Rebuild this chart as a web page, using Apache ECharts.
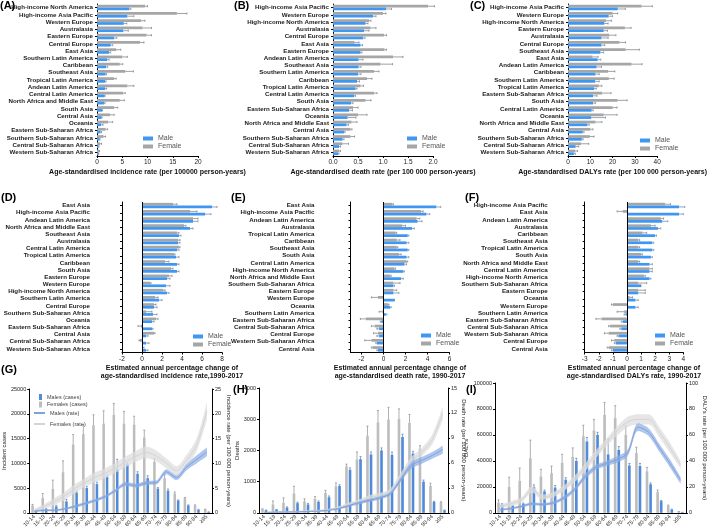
<!DOCTYPE html>
<html>
<head>
<meta charset="utf-8">
<style>
  html, body { margin: 0; padding: 0; background: #fff; }
  #chart { width: 709px; height: 530px; }
</style>
</head>
<body>
<div id="chart"></div>
<script src="https://cdn.jsdelivr.net/npm/echarts@6/dist/echarts.min.js"></script>
<script>
var FONT = '"Liberation Sans", Arial, sans-serif';
var BLUE = '#3f97f2', GREY = '#a6a6a6';
var BLUE2 = '#4f8bd9', GREY2 = '#bdbdbd';

// ---- (A) incidence rate by region ----
var regionsA = ['High-income North America','High-income Asia Pacific','Western Europe','Australasia','Eastern Europe','Central Europe','East Asia','Southern Latin America','Caribbean','Southeast Asia','Tropical Latin America','Andean Latin America','Central Latin America','North Africa and Middle East','South Asia','Central Asia','Oceania','Eastern Sub-Saharan Africa','Southern Sub-Saharan Africa','Central Sub-Saharan Africa','Western Sub-Saharan Africa'];
var maleA      = [6.4, 6.0, 5.3, 5.2, 3.4, 2.7, 2.4, 2.0, 1.8, 1.7, 1.6, 1.6, 1.5, 1.4, 1.0, 0.9, 0.8, 0.7, 0.5, 0.3, 0.3];
var maleErrA   = [6.7, 7.3, 5.9, 6.2, 3.9, 3.1, 2.7, 2.4, 2.1, 1.9, 1.8, 1.9, 1.6, 1.6, 1.1, 1.0, 1.2, 0.9, 0.6, 0.4, 0.35];
var femaleA    = [9.5, 15.8, 8.7, 9.0, 9.8, 8.5, 3.8, 5.0, 4.5, 5.6, 3.4, 6.0, 5.2, 4.5, 3.4, 2.6, 2.2, 1.7, 1.3, 0.6, 0.4];
var femaleErrA = [10.0, 17.8, 9.5, 10.8, 10.8, 9.3, 4.7, 6.0, 5.1, 7.2, 3.8, 7.3, 5.6, 5.4, 4.1, 3.4, 3.1, 2.1, 1.7, 0.9, 0.5];

// ---- (B) death rate by region ----
var regionsB = ['High-income Asia Pacific','Western Europe','High-income North America','Australasia','Central Europe','East Asia','Eastern Europe','Andean Latin America','Southeast Asia','Southern Latin America','Caribbean','Tropical Latin America','Central Latin America','South Asia','Eastern Sub-Saharan Africa','Oceania','North Africa and Middle East','Central Asia','Southern Sub-Saharan Africa','Central Sub-Saharan Africa','Western Sub-Saharan Africa'];
var maleB      = [1.06, 0.80, 0.65, 0.62, 0.60, 0.55, 0.55, 0.51, 0.51, 0.50, 0.48, 0.45, 0.42, 0.36, 0.32, 0.29, 0.27, 0.22, 0.19, 0.12, 0.10];
var maleErrB   = [1.17, 0.86, 0.70, 0.72, 0.64, 0.59, 0.58, 0.60, 0.56, 0.56, 0.53, 0.48, 0.45, 0.40, 0.39, 0.46, 0.31, 0.24, 0.22, 0.15, 0.12];
var femaleB    = [1.90, 1.00, 0.72, 0.75, 1.02, 0.43, 1.03, 1.20, 0.95, 0.82, 0.68, 0.55, 0.82, 0.65, 0.40, 0.50, 0.37, 0.35, 0.35, 0.19, 0.12];
var femaleErrB = [2.03, 1.06, 0.76, 0.86, 1.07, 0.52, 1.07, 1.40, 1.19, 0.92, 0.78, 0.61, 0.88, 0.76, 0.50, 0.68, 0.48, 0.38, 0.43, 0.31, 0.15];

// ---- (C) DALYs rate by region ----
var regionsC = ['High-income Asia Pacific','Western Europe','High-income North America','Eastern Europe','Australasia','Central Europe','Southeast Asia','East Asia','Andean Latin America','Caribbean','Southern Latin America','Tropical Latin America','Eastern Sub-Saharan Africa','South Asia','Central Latin America','Oceania','North Africa and Middle East','Central Asia','Southern Sub-Saharan Africa','Central Sub-Saharan Africa','Western Sub-Saharan Africa'];
var maleC      = [22.3, 18.2, 16.3, 16.0, 15.0, 15.0, 14.5, 13.3, 12.8, 12.3, 12.2, 11.7, 11.2, 11.2, 10.6, 10.4, 8.7, 6.6, 6.2, 3.4, 2.6];
var maleErrC   = [25.7, 20.0, 18.0, 17.7, 18.0, 16.5, 16.0, 14.7, 15.0, 14.0, 14.0, 12.7, 13.0, 12.3, 11.3, 16.8, 9.5, 7.2, 6.8, 4.8, 3.3];
var femaleC    = [33.0, 20.0, 17.0, 25.5, 18.5, 23.0, 25.8, 11.0, 28.5, 18.0, 18.3, 13.8, 15.3, 22.2, 20.0, 16.0, 12.3, 10.0, 9.8, 5.8, 3.2];
var femaleErrC = [37.8, 22.3, 19.5, 28.3, 21.5, 25.8, 32.0, 13.5, 33.2, 21.0, 20.7, 15.2, 19.3, 26.5, 22.0, 22.0, 15.2, 11.2, 11.7, 9.3, 4.3];

// ---- (D) EAPC incidence ----
var regionsD = ['East Asia','High-income Asia Pacific','Andean Latin America','North Africa and Middle East','Southeast Asia','Australasia','Central Latin America','Tropical Latin America','Caribbean','South Asia','Eastern Europe','Western Europe','High-income North America','Southern Latin America','Central Europe','Southern Sub-Saharan Africa','Oceania','Eastern Sub-Saharan Africa','Central Asia','Central Sub-Saharan Africa','Western Sub-Saharan Africa'];
var maleD      = [7.0, 6.3, 5.1, 4.8, 3.7, 3.6, 3.5, 3.4, 3.5, 3.5, 2.5, 2.4, 2.5, 1.7, 1.2, 1.1, 1.0, 1.0, 0.4, 0.4, 0.4];
var maleErrD   = [7.5, 6.9, 5.6, 5.1, 3.9, 3.8, 3.7, 3.7, 3.7, 3.7, 2.8, 2.8, 2.7, 2.0, 1.5, 1.5, 1.2, 1.1, 0.6, 0.7, 0.6];
var femaleD    = [3.1, 4.8, 5.1, 4.2, 3.5, 3.6, 3.7, 3.2, 2.3, 2.9, 2.7, 0.8, 2.1, 1.3, 1.2, 0.4, 1.4, -0.1, 1.2, -0.2, 0.1];
var femaleErrD = [3.5, 5.5, 5.6, 4.4, 3.7, 3.8, 3.8, 3.3, 2.7, 3.1, 3.0, 0.9, 2.3, 1.6, 1.4, 1.0, 1.6, -0.4, 1.3, -0.3, 0.2];

// ---- (E) EAPC death ----
var regionsE = ['East Asia','High-income Asia Pacific','Andean Latin America','Australasia','Tropical Latin America','Caribbean','Southeast Asia','South Asia','Central Latin America','High-income North America','North Africa and Middle East','Southern Sub-Saharan Africa','Eastern Europe','Western Europe','Oceania','Southern Latin America','Eastern Sub-Saharan Africa','Central Sub-Saharan Africa','Central Europe','Western Sub-Saharan Africa','Central Asia'];
var maleE      = [4.8, 3.9, 3.1, 2.6, 2.2, 2.1, 2.2, 2.1, 1.9, 1.8, 1.6, 0.9, 0.9, 1.0, 0.6, 0.2, -0.2, -0.4, -0.4, -0.6, -0.5];
var maleErrE   = [5.2, 4.2, 3.5, 2.8, 2.3, 2.3, 2.3, 2.3, 2.1, 1.9, 1.8, 1.0, 1.4, 1.0, 0.7, 0.3, -0.3, -0.6, -0.6, -0.7, -0.6];
var femaleE    = [0.8, 3.4, 3.0, 1.7, 1.1, 1.2, 1.2, 1.4, 2.1, 1.0, 0.6, 0.9, 0.9, -0.5, 0.4, -0.1, -1.6, -0.8, -0.5, -1.1, -1.0];
var femaleErrE = [0.9, 3.6, 3.3, 2.0, 1.2, 1.5, 1.3, 1.6, 2.2, 1.1, 0.7, 1.5, 1.2, -1.1, 0.5, -0.4, -2.1, -1.1, -0.9, -1.7, -1.1];

// ---- (F) EAPC DALYs ----
var regionsF = ['High-income Asia Pacific','East Asia','Andean Latin America','Australasia','Caribbean','Southeast Asia','Tropical Latin America','South Asia','North Africa and Middle East','Central Latin America','High-income North America','Southern Sub-Saharan Africa','Eastern Europe','Oceania','Western Europe','Southern Latin America','Eastern Sub-Saharan Africa','Central Sub-Saharan Africa','Western Sub-Saharan Africa','Central Europe','Central Asia'];
var maleF      = [3.7, 3.7, 2.5, 2.2, 2.0, 1.8, 1.8, 1.7, 1.6, 1.6, 1.6, 1.0, 0.8, 0.6, 0.6, -0.1, -0.3, -0.4, -0.6, -0.8, -1.0];
var maleErrF   = [4.1, 4.0, 2.9, 2.4, 2.1, 1.9, 1.9, 1.8, 1.8, 1.8, 1.7, 1.0, 1.3, 0.8, 0.8, -0.2, -0.4, -0.5, -0.7, -0.9, -1.1];
var femaleF    = [2.7, -0.3, 2.4, 1.7, 1.1, 0.8, 0.8, 1.0, 0.8, 1.6, 1.2, 0.8, 0.8, 0.2, -1.0, -0.2, -1.8, -1.2, -1.3, -0.9, -1.3];
var femaleErrF = [3.1, -0.7, 2.6, 2.0, 1.4, 0.9, 0.9, 1.1, 0.9, 1.8, 1.3, 1.4, 1.3, 0.4, -1.1, -0.7, -2.2, -1.3, -1.6, -1.1, -1.4];

// ---- (G)(H)(I) by age group ----
var ageGroups = ['10-14','15-19','20-24','25-29','30-34','35-39','40-44','45-49','50-54','55-59','60-64','65-69','70-74','75-79','80-84','85-89','90-94','≥95'];

var gFemaleCases   = [1500, 3000, 4800, 8200, 13800, 15900, 17700, 18000, 19800, 18000, 17800, 15200, 10300, 7000, 3900, 3000, 1500, 700];
var gFemaleCasesUp = [1700, 3900, 6600, 10500, 15800, 17800, 19800, 20600, 22100, 20500, 19500, 16700, 11000, 7700, 4200, 3100, 1600, 750];
var gMaleCases     = [300, 750, 1300, 2300, 4100, 5000, 5800, 7300, 8800, 9800, 7900, 7000, 4900, 4500, 2500, 1500, 600, 150];
var gMaleCasesUp   = [400, 900, 1500, 2700, 4400, 5300, 6200, 7600, 10800, 10000, 8300, 7500, 5100, 4800, 2600, 1600, 700, 200];
var gMaleRate      = [0.3, 0.5, 0.5, 0.8, 1.3, 1.9, 2.5, 3.3, 4.5, 5.8, 5.5, 6.0, 6.1, 8.3, 7.1, 9.2, 10.8, 12.3];
var gMaleRateLo    = [0.1, 0.3, 0.3, 0.6, 1.0, 1.6, 2.2, 3.0, 4.2, 5.4, 5.1, 5.6, 5.7, 7.8, 6.6, 8.6, 10.0, 11.4];
var gMaleRateHi    = [0.5, 0.7, 0.7, 1.0, 1.6, 2.2, 2.8, 3.6, 4.8, 6.2, 5.9, 6.4, 6.5, 8.8, 7.6, 9.8, 11.6, 13.2];
var gFemaleRate    = [0.5, 1.3, 2.3, 3.4, 4.9, 6.1, 7.2, 8.0, 9.1, 10.3, 11.4, 12.2, 11.5, 10.0, 8.5, 10.6, 13.8, 20.6];
var gFemaleRateLo  = [0.2, 0.8, 1.6, 2.6, 4.0, 5.2, 6.2, 7.0, 8.1, 9.2, 10.3, 11.0, 10.4, 9.0, 7.6, 9.5, 12.5, 18.8];
var gFemaleRateHi  = [0.8, 1.8, 3.0, 4.2, 5.8, 7.0, 8.2, 9.0, 10.1, 11.4, 12.5, 13.4, 12.6, 11.0, 9.4, 11.7, 15.1, 22.4];

var hFemaleDeaths   = [115, 270, 320, 620, 370, 450, 640, 850, 1490, 1710, 2470, 2900, 2990, 3010, 2880, 2050, 870, 340];
var hFemaleDeathsUp = [130, 380, 480, 850, 450, 520, 720, 960, 1560, 1950, 2780, 3280, 3380, 3330, 3150, 2150, 950, 355];
var hMaleDeaths     = [80, 100, 170, 310, 270, 350, 500, 860, 1380, 1720, 1870, 2000, 1860, 2430, 1900, 1000, 350, 80];
var hMaleDeathsUp   = [90, 110, 190, 340, 300, 380, 540, 900, 1440, 1800, 1950, 2080, 1950, 2520, 1970, 1050, 370, 90];
var hMaleRate       = [0.05, 0.08, 0.1, 0.12, 0.15, 0.2, 0.3, 0.5, 0.85, 1.2, 1.5, 1.8, 2.3, 4.0, 5.7, 6.3, 6.9, 7.6];
var hMaleRateLo     = [0, 0.02, 0.04, 0.05, 0.08, 0.12, 0.2, 0.38, 0.7, 1.0, 1.3, 1.6, 2.1, 3.7, 5.3, 5.9, 6.5, 7.1];
var hMaleRateHi     = [0.1, 0.14, 0.16, 0.19, 0.22, 0.28, 0.4, 0.62, 1.0, 1.4, 1.7, 2.0, 2.5, 4.3, 6.1, 6.7, 7.3, 8.1];
var hFemaleRate     = [0.05, 0.08, 0.1, 0.15, 0.2, 0.25, 0.35, 0.6, 1.0, 1.4, 1.8, 2.1, 2.6, 4.4, 6.2, 7.3, 8.8, 12.0];
var hFemaleRateLo   = [0, 0.02, 0.04, 0.08, 0.12, 0.16, 0.25, 0.45, 0.8, 1.2, 1.5, 1.8, 2.3, 4.0, 5.7, 6.8, 8.2, 11.2];
var hFemaleRateHi   = [0.1, 0.14, 0.16, 0.22, 0.28, 0.34, 0.45, 0.75, 1.2, 1.6, 2.1, 2.4, 2.9, 4.8, 6.7, 7.8, 9.4, 12.8];

var iFemaleDalys   = [8000, 20000, 24500, 42000, 28000, 30500, 38500, 43000, 59000, 63500, 75500, 73000, 60000, 46000, 32000, 16000, 5500, 800];
var iFemaleDalysUp = [10000, 27500, 34500, 56000, 33500, 36000, 45000, 50000, 67500, 72000, 85000, 82500, 67000, 50500, 35000, 17500, 6000, 1000];
var iMaleDalys     = [6500, 5500, 7000, 20000, 16500, 19500, 25500, 40000, 55000, 60000, 45000, 48500, 36500, 36000, 22000, 9000, 2500, 300];
var iMaleDalysUp   = [7000, 6000, 7500, 21500, 17500, 21000, 27000, 42000, 58000, 62000, 57000, 51000, 38000, 38000, 23000, 9500, 2800, 400];
var iMaleRate      = [2.3, 3.3, 5.0, 7.0, 6.4, 7.7, 11.5, 18, 28, 35, 38, 41, 46, 66, 62, 50, 38, 25];
var iMaleRateLo    = [1.5, 2.5, 4.0, 5.8, 5.3, 6.5, 10.0, 16.5, 26, 33, 36, 38.5, 43.5, 63, 59, 47, 35, 22.5];
var iMaleRateHi    = [3.1, 4.1, 6.0, 8.2, 7.5, 8.9, 13.0, 19.5, 30, 37, 40, 43.5, 48.5, 69, 65, 53, 41, 27.5];
var iFemaleRate    = [5, 7, 10, 18, 12, 14, 19, 26, 35, 45, 54, 63, 70, 72, 72, 62, 50, 37];
var iFemaleRateLo  = [3.5, 5, 8, 15.5, 10, 12, 17, 23.5, 32, 42, 51, 59.5, 66, 68, 68, 58, 46, 34];
var iFemaleRateHi  = [6.5, 9, 12, 20.5, 14, 16, 21, 28.5, 38, 48, 57, 66.5, 74, 76, 76, 66, 54, 40];

var chart = echarts.init(document.getElementById('chart'));

// error bar drawn from bar end to the upper value, with a cap
function errorBar(horizontal, shift, color) {
  return function (params, api) {
    var a = api.value(0), b = api.value(1), e = api.value(2);
    var p0, p1, band, off, cap, st = { stroke: color, lineWidth: 0.7 };
    if (horizontal) {
      p0 = api.coord([a, b]); p1 = api.coord([e, b]);
      band = api.size([0, 1])[1];
      off = p0[1] + shift * band; cap = band * 0.15;
      return { type: 'group', children: [
        { type: 'line', shape: { x1: p0[0], y1: off, x2: p1[0], y2: off }, style: st },
        { type: 'line', shape: { x1: p1[0], y1: off - cap, x2: p1[0], y2: off + cap }, style: st }
      ] };
    }
    p0 = api.coord([a, b]); p1 = api.coord([a, e]);
    band = api.size([1, 0])[0];
    off = p0[0] + shift * band; cap = band * 0.1;
    return { type: 'group', children: [
      { type: 'line', shape: { x1: off, y1: p0[1], x2: off, y2: p1[1] }, style: st },
      { type: 'line', shape: { x1: off - cap, y1: p1[1], x2: off + cap, y2: p1[1] }, style: st }
    ] };
  };
}

var hPanels = [
  { cats: regionsA, male: maleA, maleErr: maleErrA, female: femaleA, femaleErr: femaleErrA,
    grid: { left: 97, top: 4, width: 101, height: 152 }, min: 0, max: 20, interval: 5, fmt: null,
    name: 'Age-standardised incidence rate (per 100000 person-years)', nameGap: 12, labelMargin: 4, legend: [138, 130] },
  { cats: regionsB, male: maleB, maleErr: maleErrB, female: femaleB, femaleErr: femaleErrB,
    grid: { left: 333, top: 4, width: 100, height: 152 }, min: 0, max: 2, interval: 0.5, fmt: function (v) { return v.toFixed(1); },
    name: 'Age-standardised death rate (per 100 000 person-years)', nameGap: 12, labelMargin: 4, legend: [402, 130] },
  { cats: regionsC, male: maleC, maleErr: maleErrC, female: femaleC, femaleErr: femaleErrC,
    grid: { left: 568, top: 4, width: 102, height: 152 }, min: 0, max: 40, interval: 10, fmt: null,
    name: 'Age-standardised DALYs rate (per 100 000 person-years)', nameGap: 12, labelMargin: 4, legend: [635, 132] },
  { cats: regionsD, male: maleD, maleErr: maleErrD, female: femaleD, femaleErr: femaleErrD,
    grid: { left: 122, top: 202, width: 100, height: 150.5 }, min: -2, max: 8, interval: 2, fmt: null, zero: true,
    name: 'Estimated annual percentage change of\nage-standardised incidence rate,1990-2017', nameGap: 10, labelMargin: 32, legend: [188, 328] },
  { cats: regionsE, male: maleE, maleErr: maleErrE, female: femaleE, femaleErr: femaleErrE,
    grid: { left: 350.5, top: 202, width: 99, height: 150.5 }, min: -3, max: 6, ticks: [-2, 0, 2, 4, 6], fmt: null, zero: true,
    name: 'Estimated annual percentage change of\nage-standardised death rate, 1990-2017', nameGap: 10, labelMargin: 36, legend: [416, 327] },
  { cats: regionsF, male: maleF, maleErr: maleErrF, female: femaleF, femaleErr: femaleErrF,
    grid: { left: 584.7, top: 202, width: 98.6, height: 150.5 }, min: -3, max: 4, interval: 1, fmt: null, zero: true,
    name: 'Estimated annual percentage change of\nage-standardised DALYs rate, 1990-2017', nameGap: 10, labelMargin: 37, legend: [650, 327] }
];

var grids = [], xAxes = [], yAxes = [], series = [], legends = [];

hPanels.forEach(function (p, k) {
  grids.push(p.grid);
  var xa = {
    gridIndex: k, type: 'value', min: p.min, max: p.max,
    axisLine: { show: true, onZero: false, lineStyle: { color: '#000', width: 1 } },
    axisTick: { show: true, length: 2, lineStyle: { color: '#000' } },
    splitLine: { show: false },
    axisLabel: { fontSize: 6.5, color: '#222', margin: 3, fontFamily: FONT },
    name: p.name, nameLocation: 'middle', nameGap: p.nameGap,
    nameTextStyle: { fontSize: 7, fontWeight: 'bold', color: '#111', fontFamily: FONT, lineHeight: 8.5 }
  };
  if (p.interval) xa.interval = p.interval;
  if (p.fmt) xa.axisLabel.formatter = p.fmt;
  if (p.ticks) { xa.axisLabel.customValues = p.ticks; xa.axisTick.customValues = p.ticks; }
  xAxes.push(xa);
  yAxes.push({
    gridIndex: k, type: 'category', data: p.cats, inverse: true,
    axisLine: { show: true, onZero: false, lineStyle: { color: '#000', width: 1 } },
    axisTick: { show: true, length: 2, alignWithLabel: true, lineStyle: { color: '#000' } },
    axisLabel: { fontSize: 6.2, fontWeight: 'bold', color: '#1a1a1a', margin: p.labelMargin, interval: 0, fontFamily: FONT }
  });
  var fem = { name: 'Female', type: 'bar', xAxisIndex: k, yAxisIndex: k, data: p.female,
    barWidth: '38%', barGap: '0%', itemStyle: { color: GREY }, silent: true };
  if (p.zero) {
    fem.markLine = { silent: true, symbol: 'none', label: { show: false },
      lineStyle: { color: '#000', width: 1, type: 'solid' }, data: [{ xAxis: 0 }] };
  }
  series.push(fem);
  series.push({ name: 'Male', type: 'bar', xAxisIndex: k, yAxisIndex: k, data: p.male,
    barWidth: '38%', barGap: '0%', itemStyle: { color: BLUE }, silent: true });
  series.push({ type: 'custom', xAxisIndex: k, yAxisIndex: k, z: 4, silent: true,
    renderItem: errorBar(true, -0.19, '#7a7a7a'),
    data: p.female.map(function (v, i) { return [v, i, p.femaleErr[i]]; }) });
  series.push({ type: 'custom', xAxisIndex: k, yAxisIndex: k, z: 4, silent: true,
    renderItem: errorBar(true, 0.19, '#6c7f99'),
    data: p.male.map(function (v, i) { return [v, i, p.maleErr[i]]; }) });
  legends.push({ left: p.legend[0], top: p.legend[1], orient: 'vertical', icon: 'rect',
    itemWidth: 10, itemHeight: 4, itemGap: 1, selectedMode: false, data: ['Male', 'Female'],
    textStyle: { fontSize: 7, color: '#555', fontFamily: FONT } });
});

var vPanels = [
  { female: gFemaleCases, femaleUp: gFemaleCasesUp, male: gMaleCases, maleUp: gMaleCasesUp,
    mRate: gMaleRate, mLo: gMaleRateLo, mHi: gMaleRateHi, fRate: gFemaleRate, fLo: gFemaleRateLo, fHi: gFemaleRateHi,
    grid: { left: 23, top: 389, width: 189, height: 125 }, lmax: 25000, lint: 5000, rmax: 25, rint: 5,
    lname: 'Incident cases', lgap: 16, rname: 'Incidence rate (per 100 000 person-years)', rgap: 14 },
  { female: hFemaleDeaths, femaleUp: hFemaleDeathsUp, male: hMaleDeaths, maleUp: hMaleDeathsUp,
    mRate: hMaleRate, mLo: hMaleRateLo, mHi: hMaleRateHi, fRate: hFemaleRate, fLo: hFemaleRateLo, fHi: hFemaleRateHi,
    grid: { left: 259, top: 388, width: 189, height: 125 }, lmax: 4000, lint: 1000, rmax: 15, rint: 3,
    lname: 'Deaths', lgap: 16, rname: 'Death rate (per 100 000 person-years)', rgap: 12 },
  { female: iFemaleDalys, femaleUp: iFemaleDalysUp, male: iMaleDalys, maleUp: iMaleDalysUp,
    mRate: iMaleRate, mLo: iMaleRateLo, mHi: iMaleRateHi, fRate: iFemaleRate, fLo: iFemaleRateLo, fHi: iFemaleRateHi,
    grid: { left: 495, top: 383, width: 193, height: 130 }, lmax: 100000, lint: 20000, rmax: 100, rint: 20,
    lname: 'DALYs', lgap: 23, rname: 'DALYs rate (per 100 000 person-years)', rgap: 16 }
];

vPanels.forEach(function (p, j) {
  var g = grids.length, yl = yAxes.length, yr = yl + 1;
  grids.push(p.grid);
  xAxes.push({
    gridIndex: g, type: 'category', data: ageGroups,
    axisLine: { lineStyle: { color: '#000', width: 1 } },
    axisTick: { length: 2, lineStyle: { color: '#000' } },
    axisLabel: { rotate: 45, fontSize: 5.5, interval: 0, margin: 3, color: '#222', fontFamily: FONT }
  });
  var axisCommon = function (max, interval, name, pos, gap, rot) {
    return {
      gridIndex: g, type: 'value', position: pos, min: 0, max: max, interval: interval,
      axisLine: { show: true, lineStyle: { color: '#000', width: 1 } },
      axisTick: { show: true, length: 2, lineStyle: { color: '#000' } },
      splitLine: { show: false },
      axisLabel: { fontSize: 5.5, color: '#222', margin: 3, fontFamily: FONT, formatter: function (v) { return String(v); } },
      name: name, nameLocation: 'middle', nameGap: gap, nameRotate: rot,
      nameTextStyle: { fontSize: 6, color: '#222', fontFamily: FONT }
    };
  };
  yAxes.push(axisCommon(p.lmax, p.lint, p.lname, 'left', p.lgap, 90));
  yAxes.push(axisCommon(p.rmax, p.rint, p.rname, 'right', p.rgap, -90));

  series.push({ name: 'Females (cases)', type: 'bar', xAxisIndex: g, yAxisIndex: yl, data: p.female,
    barWidth: '25%', barGap: '35%', itemStyle: { color: GREY2 }, silent: true });
  series.push({ name: 'Males (cases)', type: 'bar', xAxisIndex: g, yAxisIndex: yl, data: p.male,
    barWidth: '25%', barGap: '35%', itemStyle: { color: BLUE2 }, silent: true });
  series.push({ type: 'custom', xAxisIndex: g, yAxisIndex: yl, z: 3, silent: true,
    renderItem: errorBar(false, -0.169, '#8c8c8c'),
    data: p.female.map(function (v, i) { return [i, v, p.femaleUp[i]]; }) });
  series.push({ type: 'custom', xAxisIndex: g, yAxisIndex: yl, z: 3, silent: true,
    renderItem: errorBar(false, 0.169, '#5a7fb5'),
    data: p.male.map(function (v, i) { return [i, v, p.maleUp[i]]; }) });

  // rate lines with uncertainty band (stacked: lower + width)
  [
    { name: 'Females (rate)', mid: p.fRate, lo: p.fLo, hi: p.fHi, band: 'rgba(222,222,222,0.75)', line: '#d4d4d4' },
    { name: 'Males (rate)', mid: p.mRate, lo: p.mLo, hi: p.mHi, band: 'rgba(140,172,228,0.7)', line: '#7fa2df' }
  ].forEach(function (r, q) {
    var key = 'band' + j + '_' + q;
    series.push({ type: 'line', xAxisIndex: g, yAxisIndex: yr, stack: key, data: r.lo, smooth: 0.3,
      symbol: 'none', lineStyle: { opacity: 0 }, silent: true, z: 5 });
    series.push({ type: 'line', xAxisIndex: g, yAxisIndex: yr, stack: key, smooth: 0.3,
      data: r.hi.map(function (h, i) { return h - r.lo[i]; }),
      symbol: 'none', lineStyle: { opacity: 0 }, areaStyle: { color: r.band, opacity: 1 }, silent: true, z: 5 });
    series.push({ name: r.name, type: 'line', xAxisIndex: g, yAxisIndex: yr, data: r.mid, smooth: 0.3,
      symbol: 'none', itemStyle: { color: r.line }, lineStyle: { color: r.line, width: 1 }, silent: true, z: 6 });
  });
});

legends.push({ left: 34, top: 389, orient: 'vertical', icon: 'rect', itemWidth: 3, itemHeight: 6, itemGap: 1.5,
  selectedMode: false, data: ['Males (cases)', 'Females (cases)'],
  textStyle: { fontSize: 5.5, color: '#444', fontFamily: FONT } });
legends.push({ left: 29, top: 405, orient: 'vertical', icon: 'rect', itemWidth: 11, itemHeight: 2, itemGap: 5,
  selectedMode: false, data: ['Males (rate)', 'Females (rate)'],
  textStyle: { fontSize: 5.5, color: '#444', fontFamily: FONT } });

function letter(t, x, y) {
  return { type: 'text', left: x, top: y, style: { text: t, font: 'bold 11px ' + FONT, fill: '#000' } };
}

chart.setOption({
  animation: false,
  backgroundColor: '#fff',
  textStyle: { fontFamily: FONT },
  grid: grids,
  xAxis: xAxes,
  yAxis: yAxes,
  legend: legends,
  series: series,
  graphic: [
    letter('(A)', 0, 0), letter('(B)', 234, 0), letter('(C)', 470, 0),
    letter('(D)', 1, 192), letter('(E)', 231, 192), letter('(F)', 465, 192),
    letter('(G)', 1, 364), letter('(H)', 233, 384), letter('(I)', 466, 384)
  ]
});
</script>
</body>
</html>
